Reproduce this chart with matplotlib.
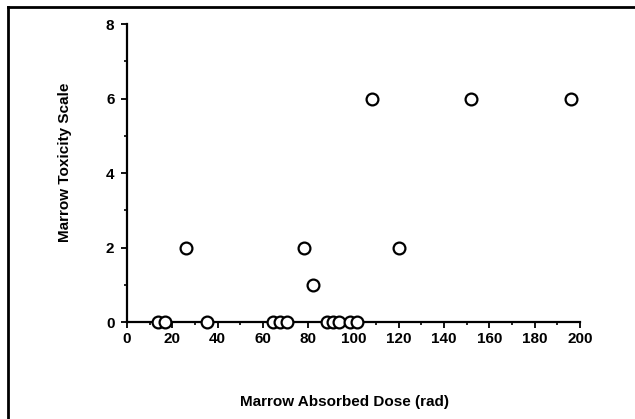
import matplotlib.pyplot as plt
from matplotlib.lines import Line2D

dose = [13.7, 16.8, 26, 35.3, 64.3, 67.6, 70.8, 78, 82, 88.2, 91.1, 93.7,
        98.5, 101.4, 108, 120, 152, 196]
toxicity = [0, 0, 2, 0, 0, 0, 0, 2, 1, 0, 0, 0, 0, 0, 6, 2, 6, 6]

x_ticks = [0, 20, 40, 60, 80, 100, 120, 140, 160, 180, 200]
y_ticks = [0, 2, 4, 6, 8]

plt.rcParams['font.family'] = ['Liberation Sans', 'DejaVu Sans']

fig = plt.figure(figsize=(6.35, 4.19), dpi=100)
ax = fig.add_axes([0.2, 0.2315, 0.7134, 0.7112])

ax.plot(dose, toxicity, 'o', markersize=8.5, markerfacecolor='white',
        markeredgecolor='black', markeredgewidth=1.6, clip_on=False, zorder=5)

ax.set_xlim(0, 200)
ax.set_ylim(0, 8)
ax.set_xticks(x_ticks)
ax.set_yticks(y_ticks)
ax.set_xticks(range(10, 200, 20), minor=True)
ax.set_yticks([1, 3, 5, 7], minor=True)
ax.tick_params(which='major', direction='out', length=4, width=1.3,
               labelsize=11, pad=3)
ax.tick_params(axis='y', which='major', pad=5)
ax.tick_params(which='minor', direction='out', length=2, width=1.2)
for lab in ax.get_xticklabels() + ax.get_yticklabels():
    lab.set_fontweight('bold')

for s in ['top', 'right']:
    ax.spines[s].set_visible(False)
for s in ['left', 'bottom']:
    ax.spines[s].set_linewidth(1.6)

fig.text(0.543, 0.04, 'Marrow Absorbed Dose (rad)', ha='center', va='center',
         fontsize=11, fontweight='bold')
fig.text(0.102, 0.613, 'Marrow Toxicity Scale', ha='center', va='center',
         rotation=90, fontsize=11, fontweight='bold')

# outer frame of the scanned figure
fig.add_artist(Line2D([0.013, 1.0], [0.983, 0.983], color='black', lw=2,
                      transform=fig.transFigure))
fig.add_artist(Line2D([0.013, 0.013], [0.0, 0.983], color='black', lw=2,
                      transform=fig.transFigure))

fig.savefig('out.png', dpi=100)
